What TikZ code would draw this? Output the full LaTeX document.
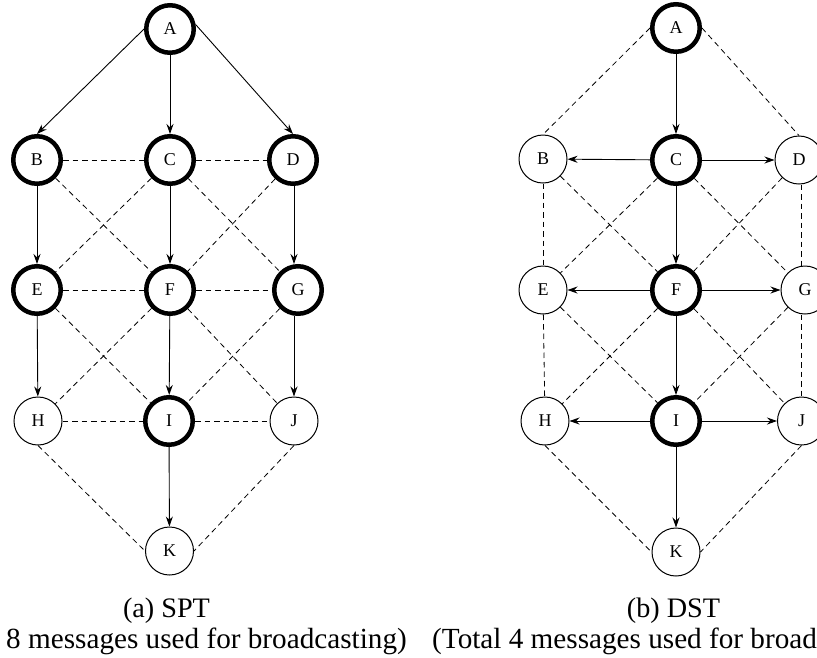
\documentclass[tikz,border=0pt]{standalone}
\usepackage{fontspec}
\setmainfont{Liberation Serif}
\usetikzlibrary{arrows.meta}
\begin{document}
\begin{tikzpicture}[x=1pt,y=-1pt,
  vtx/.style={circle,draw,line width=1pt,minimum size=48pt,inner sep=0pt,
              font=\fontsize{18}{20}\selectfont},
  src/.style={vtx,line width=4.5pt,minimum size=47.5pt},
  tree/.style={line width=0.9pt,-{Stealth[length=10pt,width=7pt]}},
  link/.style={line width=0.8pt,dash pattern=on 5.5pt off 4pt},
  captext/.style={font=\fontsize{28.2}{32}\selectfont,inner sep=0pt},
  notetext/.style={font=\fontsize{29.2}{33}\selectfont,inner sep=0pt}]
\clip (0,0) rectangle (817,657);

% ---------- (a) SPT ----------
\node[src] (la) at (170,29)  {A};
\node[src] (lb) at (37,160)  {B};
\node[src] (lc) at (170,160) {C};
\node[src] (ld) at (293,160) {D};
\node[src] (le) at (37,290)  {E};
\node[src] (lf) at (170,290) {F};
\node[src] (lg) at (298,290) {G};
\node[vtx] (lh) at (38,421)  {H};
\node[src] (li) at (169,421) {I};
\node[vtx] (lj) at (294,421) {J};
\node[vtx] (lk) at (169.5,551) {K};

\draw[link] (lb) -- (lc);  \draw[link] (lc) -- (ld);
\draw[link] (le) -- (lf);  \draw[link] (lf) -- (lg);
\draw[link] (lh) -- (li);  \draw[link] (li) -- (lj);
\draw[link] (lb) -- (lf);  \draw[link] (lc) -- (le);
\draw[link] (lc) -- (lg);  \draw[link] (ld) -- (lf);
\draw[link] (le) -- (li);  \draw[link] (lf) -- (lh);
\draw[link] (lf) -- (lj);  \draw[link] (lg) -- (li);
\draw[link] (lh.south) -- (lk.west);
\draw[link] (lj.south) -- (lk.east);

\draw[tree] (la.west) -- (lb.north);
\draw[tree] (la) -- (lc);
\draw[tree] (la.10) -- (ld.north);
\draw[tree] (lb) -- (le);
\draw[tree] (lc) -- (lf);
\draw[tree] (ld.south -| lj) -- (lg.north -| lj);
\draw[tree] (le) -- (lh);
\draw[tree] (lf) -- (li);
\draw[tree] (lg.south -| lj) -- (lj.north);
\draw[tree] (li) -- (lk);

\node[captext,anchor=base] (lcap) at (166.5,617) {(a) SPT};
\node[notetext,anchor=base east] (lnote) at (407,648)
  {(Total 8 messages used for broadcasting)};

% ---------- (b) DST ----------
\node[src] (ra) at (676,28)  {A};
\node[vtx] (rb) at (543,159) {B};
\node[src] (rc) at (676,160) {C};
\node[vtx] (rd) at (799,160) {D};
\node[vtx] (re) at (543,290) {E};
\node[src] (rf) at (676,290) {F};
\node[vtx] (rg) at (805,290) {G};
\node[vtx] (rh) at (545,421) {H};
\node[src] (ri) at (676,421) {I};
\node[vtx] (rj) at (801.5,421) {J};
\node[vtx] (rk) at (676,552) {K};

\draw[link] (ra.west) -- (rb.north);
\draw[link] (ra.east) -- (rd.north);
\draw[link] (rb) -- (re);
\draw[link] (rd.south -| rj) -- (rg.north -| rj);
\draw[link] (re) -- (rh);
\draw[link] (rg.south -| rj) -- (rj.north);
\draw[link] (rb) -- (rf);  \draw[link] (rc) -- (re);
\draw[link] (rc) -- (rg);  \draw[link] (rd) -- (rf);
\draw[link] (re) -- (ri);  \draw[link] (rf) -- (rh);
\draw[link] (rf) -- (rj);  \draw[link] (rg) -- (ri);
\draw[link] (rh.south) -- (rk.west);
\draw[link] (rj.south) -- (rk.east);

\draw[tree] (ra) -- (rc);
\draw[tree] (rc) -- (rb);
\draw[tree] (rc) -- (rd);
\draw[tree] (rc) -- (rf);
\draw[tree] (rf) -- (re);
\draw[tree] (rf) -- (rg);
\draw[tree] (rf) -- (ri);
\draw[tree] (ri) -- (rh);
\draw[tree] (ri) -- (rj);
\draw[tree] (ri) -- (rk);

\node[captext,anchor=base] (rcap) at (673.5,617) {(b) DST};
\node[notetext,anchor=base west] (rnote) at (432,648)
  {(Total 4 messages used for broadcasting)};
\end{tikzpicture}
\end{document}
